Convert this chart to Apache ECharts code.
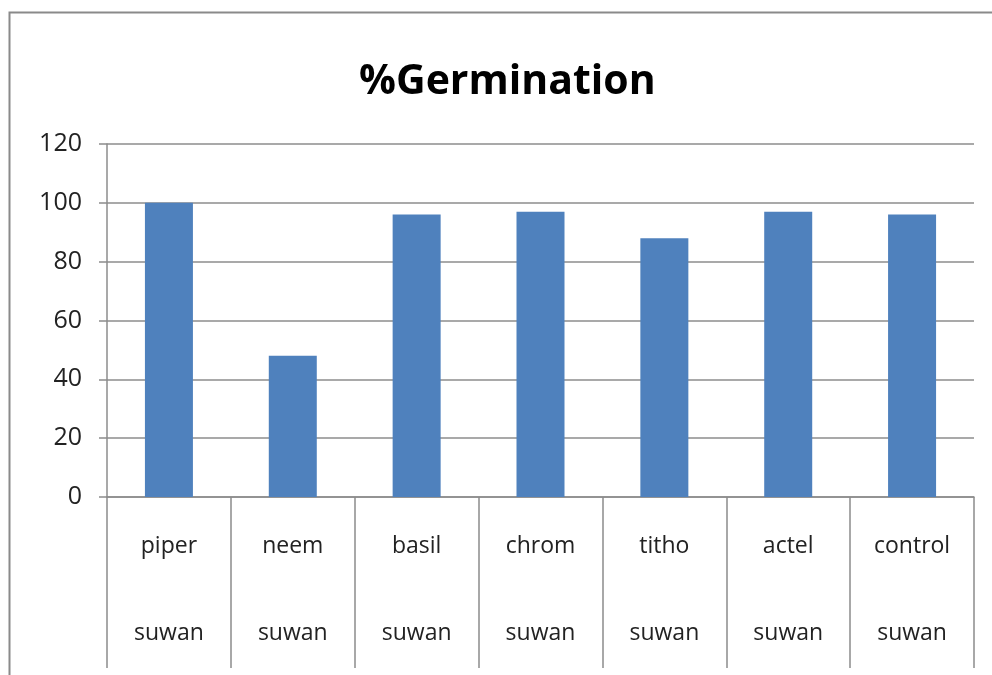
<!DOCTYPE html>
<html>
<head>
<meta charset="utf-8">
<script src="https://cdn.jsdelivr.net/npm/echarts@6/dist/echarts.min.js"></script>
<style>
  html, body { margin: 0; padding: 0; background: #fff; }
  #chart { width: 992px; height: 675px; }
</style>
</head>
<body>
<div id="chart"></div>
<script>
// data
const treatments = ['piper', 'neem', 'basil', 'chrom', 'titho', 'actel', 'control']
const variety = ['suwan', 'suwan', 'suwan', 'suwan', 'suwan', 'suwan', 'suwan']
const germination = [100, 48, 96, 97, 88, 97, 96]
const yTicks = [0, 20, 40, 60, 80, 100, 120]

const font = '"Open Sans", "Liberation Sans", sans-serif'
const chart = echarts.init(document.getElementById('chart'))

chart.setOption({
  animation: false,
  backgroundColor: '#fff',
  title: {
    text: '%Germination',
    left: 354,
    top: 57,
    textStyle: { fontFamily: font, fontSize: 41, fontWeight: 'bold', color: '#000' }
  },
  // outer frame
  graphic: [{
    type: 'rect',
    shape: { x: 9.5, y: 12.5, width: 1200, height: 900 },
    style: { fill: 'none', stroke: '#8a8a8a', lineWidth: 2 },
    silent: true
  }],
  grid: { left: 107, right: 18, top: 144, bottom: 178 },
  xAxis: {
    type: 'category',
    data: treatments,
    axisLine: { lineStyle: { color: '#8c8c8c', width: 1.5 } },
    axisTick: { show: true, length: 171, alignWithLabel: false, lineStyle: { color: '#8c8c8c', width: 1.5 } },
    axisLabel: {
      margin: 6,
      formatter: (v, i) => `{a|${v}}\n{a|${variety[i]}}`,
      rich: { a: { fontFamily: font, fontSize: 23, color: '#222', lineHeight: 87 } }
    }
  },
  yAxis: {
    type: 'value',
    min: yTicks[0],
    max: yTicks[yTicks.length - 1],
    interval: 20,
    axisLine: { show: true, lineStyle: { color: '#8c8c8c', width: 1.5 } },
    axisTick: { show: true, length: 8, lineStyle: { color: '#8c8c8c', width: 1.5 } },
    splitLine: { lineStyle: { color: '#8c8c8c', width: 1.5 } },
    axisLabel: { margin: 25, fontFamily: font, fontSize: 25, color: '#222' }
  },
  series: [{
    type: 'bar',
    data: germination,
    barWidth: 48,
    itemStyle: { color: '#4f81bd' }
  }]
})
</script>
</body>
</html>
